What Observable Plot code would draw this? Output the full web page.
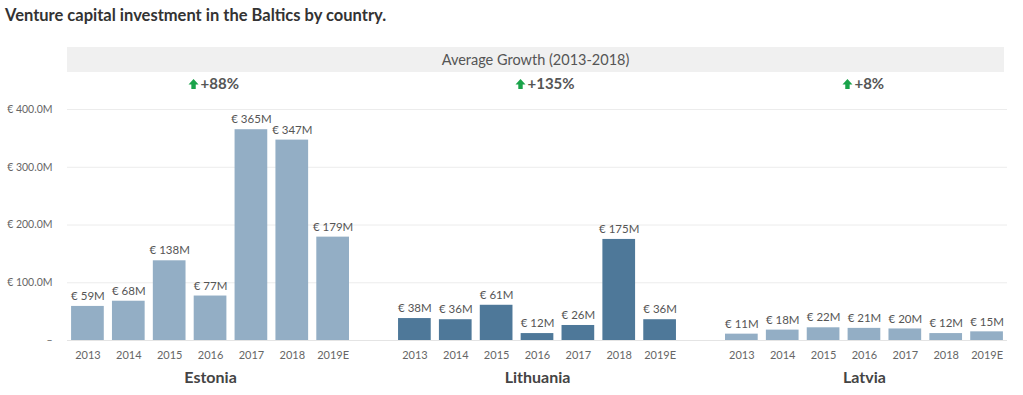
<!DOCTYPE html>
<html><head><meta charset="utf-8">
<script src="https://cdn.jsdelivr.net/npm/d3@7"></script>
<script src="https://cdn.jsdelivr.net/npm/@observablehq/plot@0.6"></script>
<style>
body{margin:0;background:#fff;font-family:Lato,"Noto Sans",sans-serif;}
#title{height:47px;box-sizing:border-box;padding:5px 0 0 5px;font-weight:bold;font-size:16.5px;color:#333;}
#band{margin-left:67px;width:937px;height:25px;background:#f0f0f0;text-align:center;line-height:25px;font-size:14.5px;color:#555;}
</style></head>
<body>
<div id="title">Venture capital investment in the Baltics by country.</div>
<div id="band">Average Growth (2013-2018)</div>
<div id="chart"></div>
<script>
const years = ["2013","2014","2015","2016","2017","2018","2019E"];
const countries = ["Estonia","Lithuania","Latvia"];
const estonia = [59,68,138,77,365,347,179];
const lithuania = [38,36,61,12,26,175,36];
const latvia = [11,18,22,21,20,12,15];
const growth = ["+88%","+135%","+8%"];
const yTicks = [0,100,200,300,400];

const series = [estonia, lithuania, latvia];
const rows = [];
countries.forEach((c, i) => years.forEach((y, j) => rows.push({country: c, year: y, key: c + "|" + y, value: series[i][j]})));

const domain = [];
countries.forEach((c, i) => {
  if (i > 0) domain.push("gap" + i);
  years.forEach(y => domain.push(c + "|" + y));
});
const mid = years[3];
const labels = countries.map((c, i) => ({country: c, key: c + "|" + mid, growth: growth[i]}));

const arrowSymbol = {
  draw(ctx) {
    ctx.moveTo(0, -5.5);
    ctx.lineTo(5, 0);
    ctx.lineTo(2.2, 0);
    ctx.lineTo(2.2, 4.5);
    ctx.lineTo(-2.2, 4.5);
    ctx.lineTo(-2.2, 0);
    ctx.lineTo(-5, 0);
    ctx.closePath();
  }
};

const plot = Plot.plot({
  width: 1023,
  height: 323,
  marginLeft: 67,
  marginRight: 16,
  marginTop: 37,
  marginBottom: 55,
  style: {fontFamily: "Lato, 'Noto Sans', sans-serif", background: "#fff"},
  x: {type: "band", domain, paddingInner: 0.2, paddingOuter: 0.1, round: false, label: null},
  y: {domain: [0, 400], label: null},
  color: {domain: countries, range: ["#93aec5", "#4e7899", "#93aec5"]},
  marks: [
    Plot.gridY(yTicks.filter(d => d > 0), {stroke: "#ececec", strokeOpacity: 1}),
    Plot.ruleY([0], {stroke: "#e4e4e4"}),
    Plot.barY(rows, {x: "key", y: "value", fill: "country"}),
    Plot.text(rows, {x: "key", y: "value", text: d => `€ ${d.value}M`, dy: -10, fill: "#555", fontSize: 11.5}),
    Plot.axisY({ticks: yTicks, tickSize: 0, tickPadding: 15, tickFormat: d => d === 0 ? "–" : `€ ${d.toFixed(1)}M`, fill: "#666", fontSize: 10.5, label: null}),
    Plot.axisX({tickSize: 0, tickPadding: 11, tickFormat: d => d.startsWith("gap") ? "" : d.split("|")[1], fill: "#666", fontSize: 11, label: null}),
    Plot.text(labels, {x: "key", y: () => 0, text: "country", dy: 37, fontWeight: "bold", fontSize: 16, fill: "#444"}),
    Plot.text(labels, {x: "key", frameAnchor: "top", lineAnchor: "middle", text: "growth", textAnchor: "start", dx: -10, dy: -25, fontWeight: "bold", fontSize: 15, fill: "#555"}),
    Plot.dot(labels, {x: "key", frameAnchor: "top", symbol: arrowSymbol, dx: -17, dy: -25, fill: "#1aa34a", stroke: "none"})
  ]
});
document.getElementById("chart").appendChild(plot);
</script>
</body></html>
